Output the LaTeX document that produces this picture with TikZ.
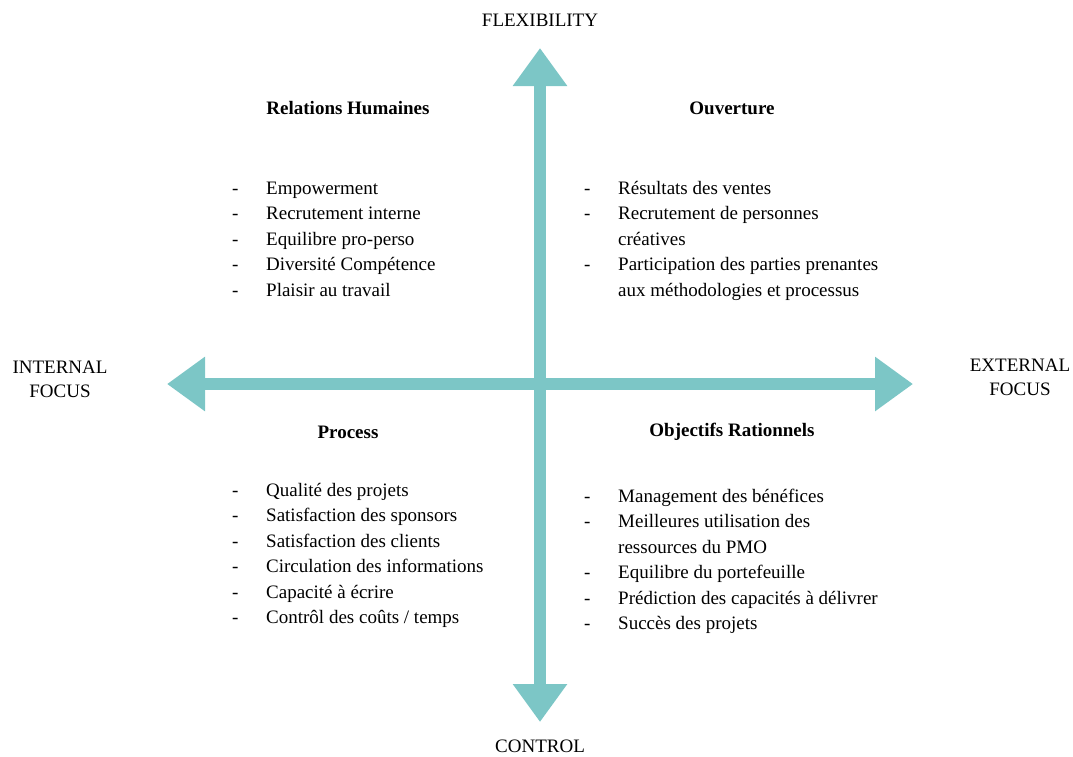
\documentclass[tikz,border=0pt]{standalone}
\usepackage{fontspec}
\setmainfont{Liberation Serif}
\usepackage{tikz}
\usetikzlibrary{arrows.meta}
\definecolor{axisteal}{RGB}{124,198,198}

\tikzset{
	axis/.style={line width=12pt,axisteal,{Triangle[width=52pt,length=38pt]}-{Triangle[width=52pt,length=38pt]}},
	axislabel/.style={align=center,inner sep=0pt,font=\fontsize{19}{24}\selectfont},
	quadtitle/.style={inner sep=0pt,font=\fontsize{19}{24}\selectfont\bfseries},
	itemlist/.style={anchor=north west,inner sep=0pt,font=\fontsize{19}{25.5}\selectfont}
}
\newcommand{\dashlist}[1]{\begin{tabular}{@{}p{34pt}@{}l@{}}#1\end{tabular}}

\begin{document}
\begin{tikzpicture}[x=1pt,y=-1pt]
	\useasboundingbox (0,0) rectangle (1073,756);
	% axes
	\coordinate (top) at (540,48);
	\coordinate (bot) at (540,722);
	\coordinate (left) at (167,384);
	\coordinate (right) at (913,384);
	\draw[axis] (bot) -- (top);
	\draw[axis] (left) -- (right);
	\node[axislabel] (flex) at (540,20) {FLEXIBILITY};
	\node[axislabel] (ctrl) at (540,746) {CONTROL};
	\node[axislabel] (intern) at (60,379) {INTERNAL\\FOCUS};
	\node[axislabel] (extern) at (1020,377) {EXTERNAL\\FOCUS};

	% quadrant titles
	\node[quadtitle] (relh) at (348,108) {Relations Humaines};
	\node[quadtitle] (ouv) at (732,108) {Ouverture};
	\node[quadtitle] (proc) at (348,432) {Process};
	\node[quadtitle] (objr) at (732,432) {Objectifs Rationnels};

	% quadrant lists
	\node[itemlist] (relhlist) at (232,176) {\dashlist{
		- & Empowerment\\
		- & Recrutement interne\\
		- & Equilibre pro-perso\\
		- & Diversité Compétence\\
		- & Plaisir au travail}};
	\node[itemlist] (ouvlist) at (584,176) {\dashlist{
		- & Résultats des ventes\\
		- & Recrutement de personnes\\
		  & créatives\\
		- & Participation des parties prenantes\\
		  & aux méthodologies et processus}};
	\node[itemlist] (proclist) at (232,478) {\dashlist{
		- & Qualité des projets\\
		- & Satisfaction des sponsors\\
		- & Satisfaction des clients\\
		- & Circulation des informations\\
		- & Capacité à écrire\\
		- & Contrôl des coûts / temps}};
	\node[itemlist] (objrlist) at (584,484) {\dashlist{
		- & Management des bénéfices\\
		- & Meilleures utilisation des\\
		  & ressources du PMO\\
		- & Equilibre du portefeuille\\
		- & Prédiction des capacités à délivrer\\
		- & Succès des projets}};
\end{tikzpicture}
\end{document}
